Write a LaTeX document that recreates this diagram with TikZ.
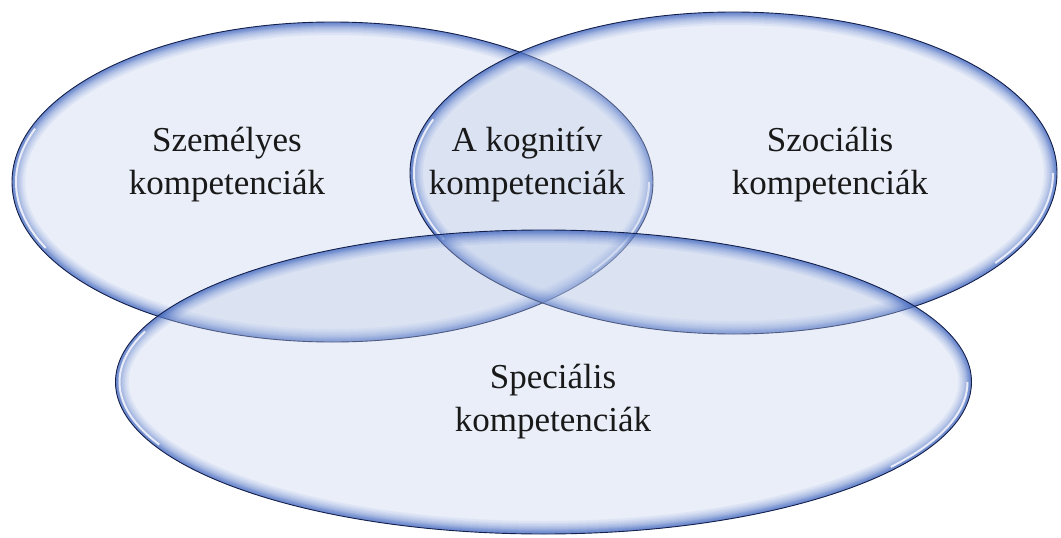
\documentclass[tikz,border=0pt]{standalone}
\usepackage{fontspec}
\setmainfont{Liberation Serif}
\usetikzlibrary{shapes.geometric}
\definecolor{vfill}{RGB}{192,206,235}
\definecolor{vline}{RGB}{20,32,75}
\definecolor{vglow}{RGB}{55,95,190}
\tikzset{
  venn/.style 2 args={ellipse, minimum width=2*#1, minimum height=2*#2,
    inner sep=0pt, outer sep=0pt, fill=vfill, fill opacity=0.35,
    draw=vline, line width=0.9pt,
    path picture={
      \foreach \w in {2,3,4,5,6,7,8,9,10,12,14,16,19,22,26}{
        \draw[vglow, line width=\w pt, draw opacity=0.075]
          (path picture bounding box.center) ellipse [x radius=#1, y radius=#2];
      }
      \draw[white, line width=2pt, draw opacity=0.8]
        (path picture bounding box.center) ++(160:{#1-4pt} and {#2-4pt})
        arc[start angle=160, end angle=205, x radius={#1-4pt}, y radius={#2-4pt}];
      \draw[white, line width=2pt, draw opacity=0.8]
        (path picture bounding box.center) ++(-35:{#1-4pt} and {#2-4pt})
        arc[start angle=-35, end angle=0, x radius={#1-4pt}, y radius={#2-4pt}];
    }},
  lbl/.style={font=\fontsize{35}{43}\selectfont, align=center, inner sep=0pt,
    text=black!90}
}
\begin{document}
\begin{tikzpicture}[x=1pt,y=-1pt]
\useasboundingbox (0,0) rectangle (1061,538);
\node[venn={320.5pt}{160pt}] (L) at (332.5,182) {};
\node[venn={323.5pt}{161pt}] (R) at (733.5,173) {};
\node[venn={428pt}{152pt}] (B) at (543.5,382) {};
\node[lbl] (tL) at (227,165) {Személyes\\kompetenciák};
\node[lbl] (tC) at (527,165) {A kognitív\\kompetenciák};
\node[lbl] (tR) at (830,165) {Szociális\\kompetenciák};
\node[lbl] (tB) at (553,402) {Speciális\\kompetenciák};
\end{tikzpicture}
\end{document}
